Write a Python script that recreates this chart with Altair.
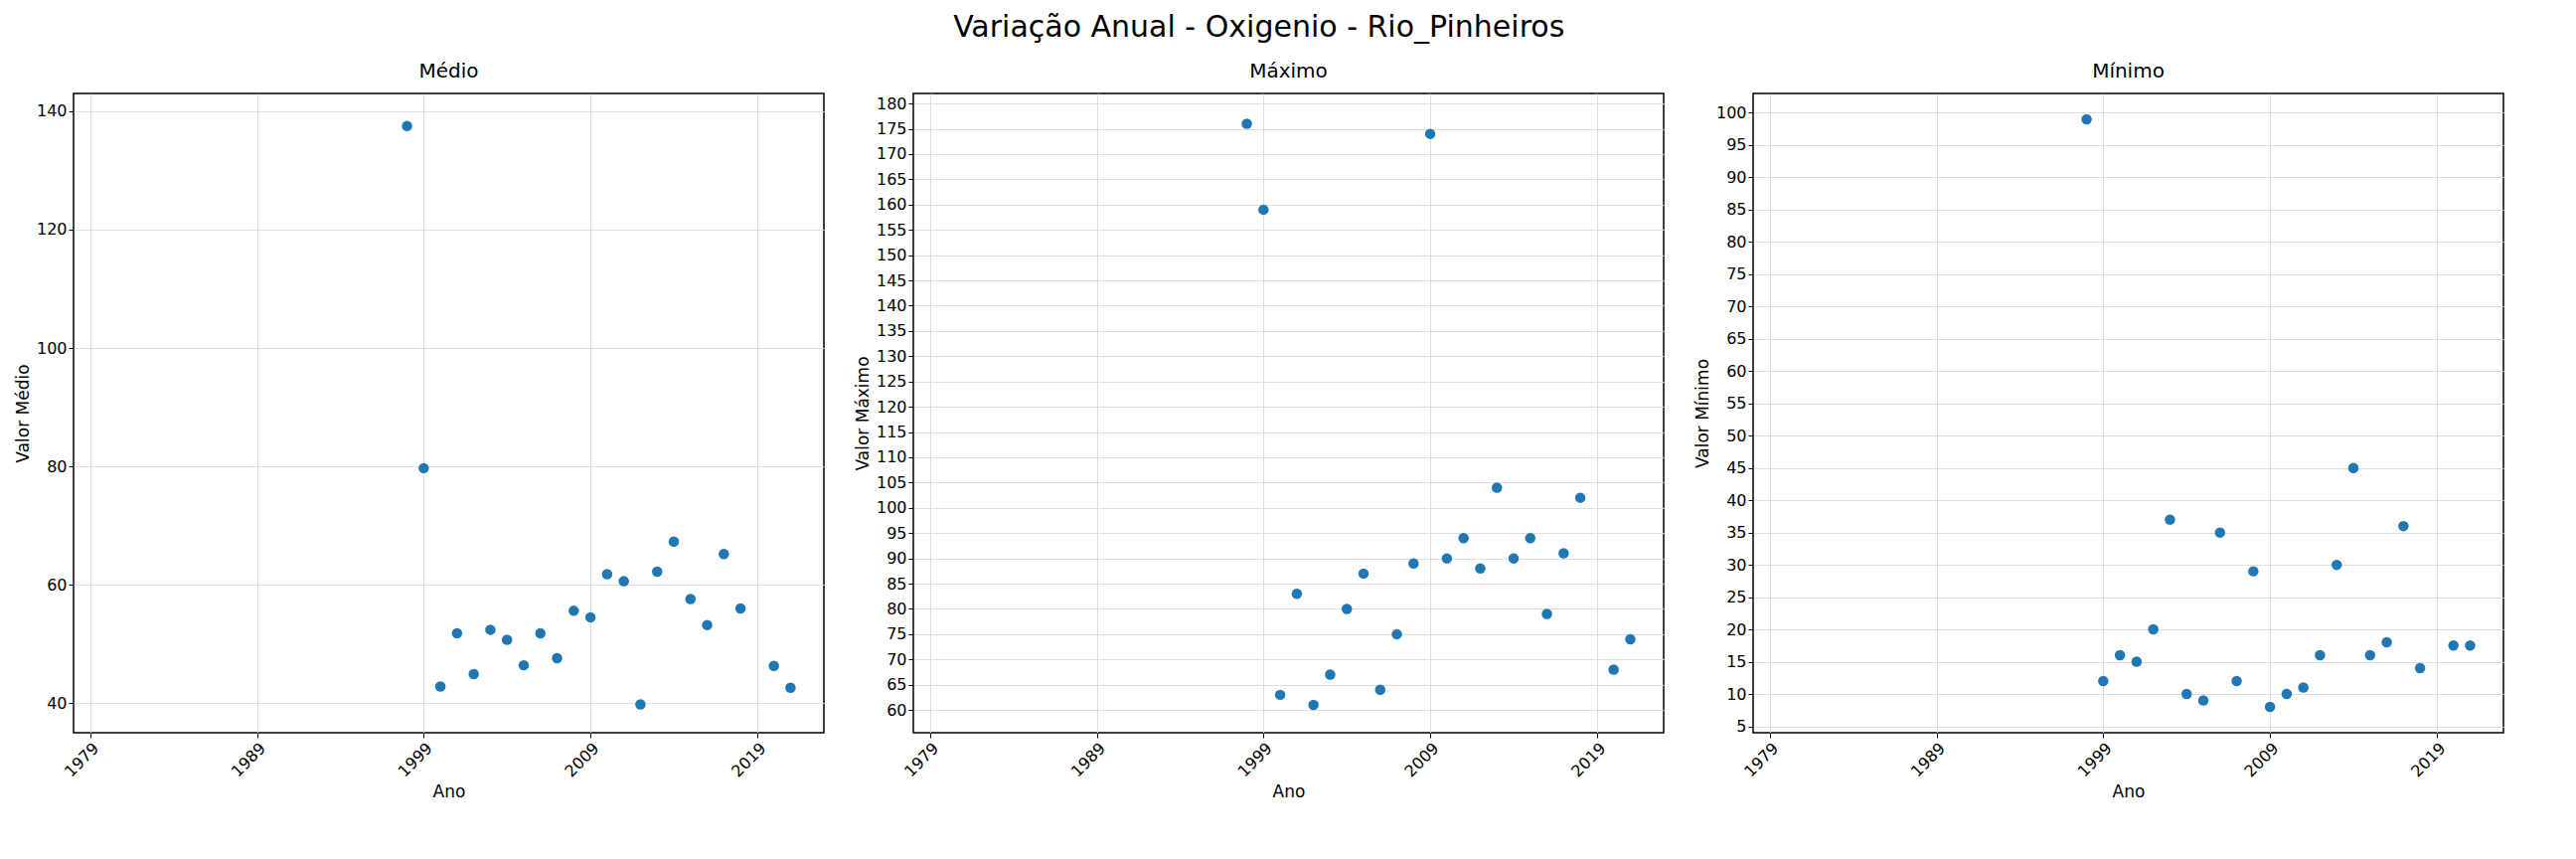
import altair as alt
import pandas as pd

anos = [1998, 1999, 2000, 2001, 2002, 2003, 2004, 2005, 2006, 2007, 2008, 2009,
        2010, 2011, 2012, 2013, 2014, 2015, 2016, 2017, 2018, 2020, 2021]
medio = [137.5, 79.7, 42.8, 51.8, 44.9, 52.4, 50.7, 46.4, 51.8, 47.6, 55.6, 54.5,
         61.8, 60.6, 39.8, 62.2, 67.3, 57.6, 53.2, 65.2, 56.0, 46.3, 42.6]
maximo = [176, 159, 63, 83, 61, 67, 80, 87, 64, 75, 89, 174,
          90, 94, 88, 104, 90, 94, 79, 91, 102, 68, 74]
minimo = [99, 12, 16, 15, 20, 37, 10, 9, 35, 12, 29, 8,
          10, 11, 16, 30, 45, 16, 18, 36, 14, 17.5, 17.5]
x_ticks = [1979, 1989, 1999, 2009, 2019]

df = pd.DataFrame({"Ano": anos, "medio": medio, "maximo": maximo, "minimo": minimo})


def panel(col, titulo, ytitle, domain, step):
    ticks = list(range(int(domain[0] // step * step + step), int(domain[1]) + 1, step))
    return alt.Chart(df).mark_circle(size=110, opacity=1, color="#1f77b4").encode(
        x=alt.X("Ano:Q", title="Ano", scale=alt.Scale(domain=[1978, 2023], nice=False),
                axis=alt.Axis(values=x_ticks, format="d", labelAngle=-45)),
        y=alt.Y(f"{col}:Q", title=ytitle, scale=alt.Scale(domain=domain, nice=False, zero=False),
                axis=alt.Axis(values=ticks)),
    ).properties(width=755, height=643,
                 title=alt.TitleParams(titulo, offset=12))


chart = alt.hconcat(
    panel("medio", "Médio", "Valor Médio", [35, 143], 20),
    panel("maximo", "Máximo", "Valor Máximo", [55.5, 182], 5),
    panel("minimo", "Mínimo", "Valor Mínimo", [4, 103], 5),
    spacing=28,
).properties(
    title=alt.TitleParams("Variação Anual - Oxigenio - Rio_Pinheiros", fontSize=30,
                          fontWeight="normal", anchor="middle", font="DejaVu Sans",
                          offset=28, dy=10)
).configure_view(stroke="black", strokeWidth=1.5).configure_axis(
    labelFont="DejaVu Sans", titleFont="DejaVu Sans", labelFontSize=16, titleFontSize=17,
    titleFontWeight="normal", labelColor="black", titleColor="black",
    gridColor="#dddddd", domain=False, tickColor="black"
).configure_axisX(labelAlign="right").configure_axisY(labelAlign="right").configure_title(
    font="DejaVu Sans", fontSize=20, fontWeight="normal"
).configure_concat(spacing=28)

chart.save("out.html", embed_options={"renderer": "svg", "actions": False})
